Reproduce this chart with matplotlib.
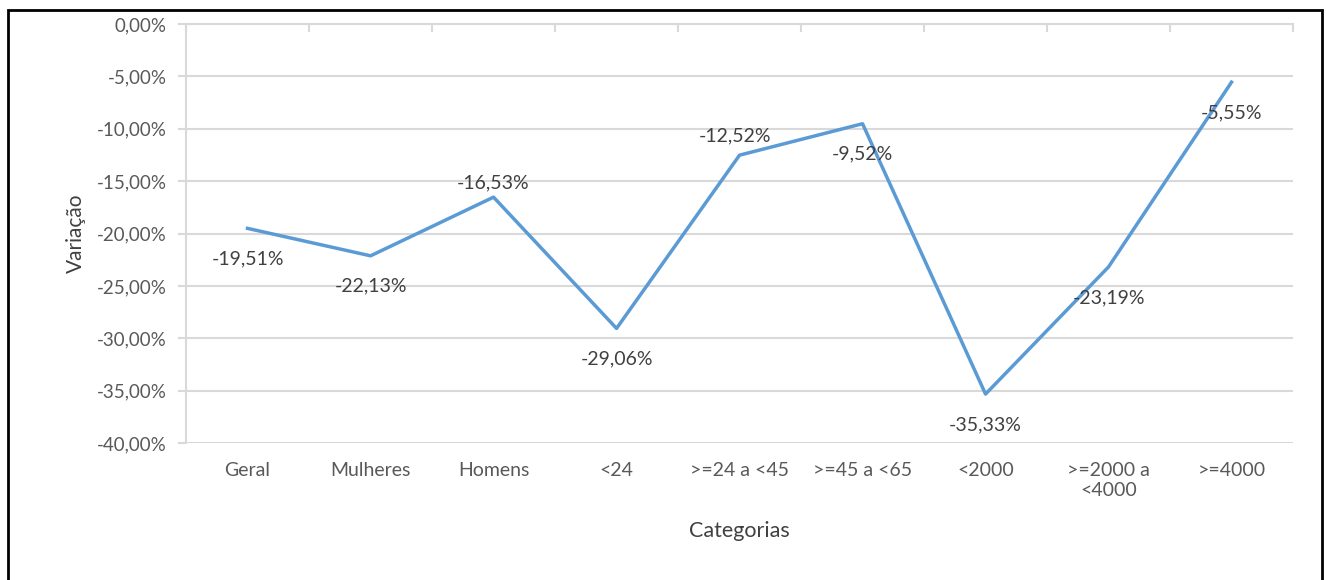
import matplotlib.pyplot as plt
from matplotlib.patches import Rectangle
from matplotlib.ticker import FuncFormatter, FixedLocator

categorias = ["Geral", "Mulheres", "Homens", "<24", ">=24 a <45", ">=45 a <65",
              "<2000", ">=2000 a\n<4000", ">=4000"]
variacao = [-19.51, -22.13, -16.53, -29.06, -12.52, -9.52, -35.33, -23.19, -5.55]
# label offsets in points (dx, dy), roughly as Excel placed them
offsets = [(0, -22), (0, -22), (0, 10), (0, -22), (-3, 14), (0, -22), (0, -22), (0, -22), (0, -22)]

plt.rcParams['font.family'] = ['Lato', 'DejaVu Sans']
grey = "#595959"
grid_c = "#d9d9d9"

fig = plt.figure(figsize=(13.27, 5.8), dpi=100)
ax = fig.add_axes([0.1402, 0.2362, 0.8342, 0.7224])

# frame around the whole chart
fig.patches.append(Rectangle((8 / 1327, -0.05), 1314 / 1327, 1.05 - 10 / 580,
                             transform=fig.transFigure, fill=False,
                             edgecolor="black", linewidth=2))

x = list(range(len(categorias)))
ax.plot(x, variacao, color="#5B9BD5", linewidth=2.5, zorder=3)

for i, v in enumerate(variacao):
    ax.annotate(f"{v:.2f}%".replace(".", ","), (i, v), xytext=offsets[i],
                textcoords="offset points", ha="center", va="center",
                fontsize=14, color="#404040", zorder=4)

ax.set_xlim(-0.5, len(categorias) - 0.5)
ax.set_ylim(-40, 0)
ax.set_yticks([0, -5, -10, -15, -20, -25, -30, -35, -40])
ax.yaxis.set_major_formatter(FuncFormatter(lambda v, p: f"{v:.2f}%".replace(".", ",")))
ax.grid(axis="y", color=grid_c, linewidth=1.5)
ax.set_axisbelow(True)

ax.set_xticks(x)
ax.set_xticklabels(categorias)
ax.xaxis.set_minor_locator(FixedLocator([i + 0.5 for i in range(-1, len(categorias))]))
ax.tick_params(axis="x", which="major", length=0, pad=14, labelsize=14, labelcolor=grey)
ax.tick_params(axis="x", which="minor", direction="in", length=6, color=grid_c,
               width=1.5, top=True, bottom=False)
ax.tick_params(axis="y", length=6, color=grid_c, width=1.5, labelsize=13.5, labelcolor=grey, pad=8)

for s in ["right", "bottom"]:
    ax.spines[s].set_visible(False)
for s in ["left", "top"]:
    ax.spines[s].set_color(grid_c)
    ax.spines[s].set_linewidth(1.5)

ax.set_ylabel("Variação", fontsize=15, color="#404040", labelpad=8)
ax.set_xlabel("Categorias", fontsize=15.5, color="#404040", labelpad=16)

fig.savefig("out.png", dpi=100)
